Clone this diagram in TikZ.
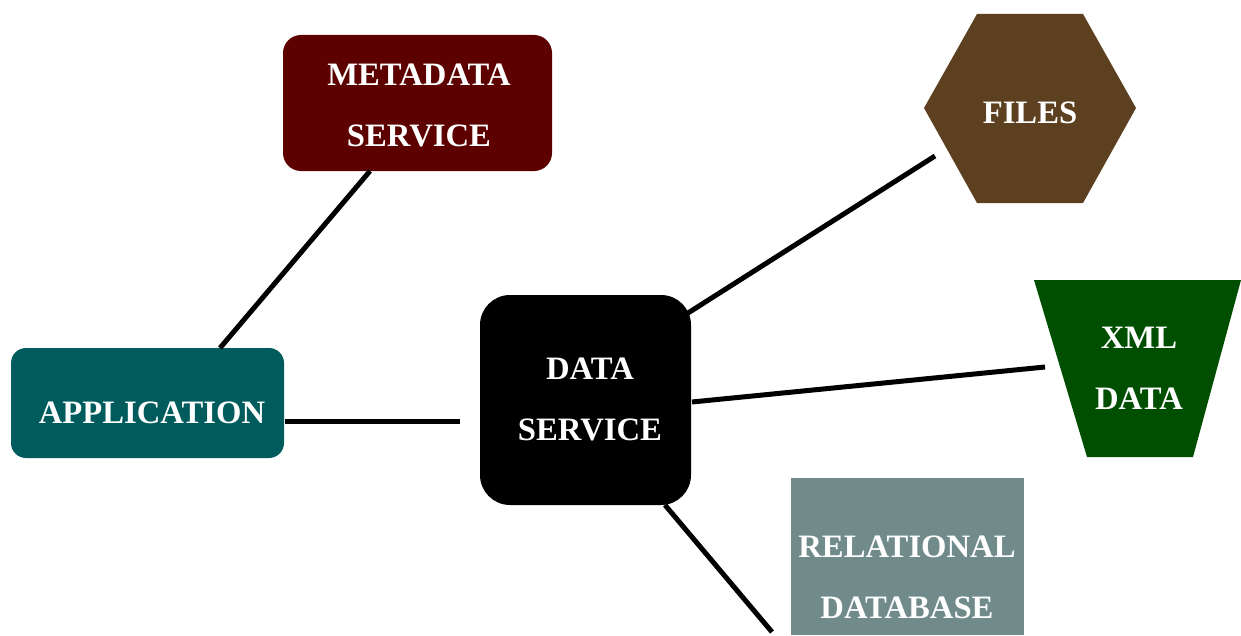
\documentclass[tikz,border=0pt]{standalone}
\usepackage{fontspec}
\setmainfont{Liberation Serif}
\definecolor{metac}{HTML}{5C0000}
\definecolor{appc}{HTML}{005C5C}
\definecolor{filesc}{HTML}{5C4020}
\definecolor{xmlc}{HTML}{004F00}
\definecolor{relc}{HTML}{718A8A}
\begin{document}
\begin{tikzpicture}[x=0.75pt,y=-0.75pt,
  lbl/.style={text=white,align=center,font=\bfseries\fontsize{24.5}{45.75}\selectfont,inner sep=0pt},
  box/.style={draw=none,inner sep=0pt},
  link/.style={line width=3.75pt,black}]
\useasboundingbox (0,0) rectangle (1241,635);
% shapes
\node[box,fill=metac,rounded corners=13.5pt,minimum width=201.75pt,minimum height=102pt] (meta) at (417.5,103) {};
\node[box,fill=appc,rounded corners=11.25pt,minimum width=204.75pt,minimum height=82.5pt] (app) at (147.5,403) {};
\node[box,fill=black,rounded corners=22.5pt,minimum width=158.25pt,minimum height=157.5pt] (data) at (585.5,400) {};
\node[box,fill=relc,minimum width=174.75pt,minimum height=117.75pt] (rel) at (907.5,556.5) {};
\fill[filesc] (977,14) -- (1083,14) -- (1136,108) -- (1083,203) -- (977,203) -- (924,108) -- cycle;
\fill[xmlc] (1034,280) -- (1241,280) -- (1193,457) -- (1087,457) -- cycle;
% texts
\node[lbl] (tmeta) at (419,105) {METADATA\\SERVICE};
\node[lbl] (tapp) at (152,413) {APPLICATION};
\node[lbl] (tdata) at (590,399.5) {DATA\\SERVICE};
\node[lbl] (tfiles) at (1030,113) {FILES};
\node[lbl] (txml) at (1139,368.5) {XML\\DATA};
\node[lbl] (trel) at (907,577) {RELATIONAL\\DATABASE};
% connector ends
\coordinate (m1) at (370,171);
\coordinate (a1) at (220,348);
\coordinate (a2) at (285,421);
\coordinate (d1) at (460,421);
\coordinate (d2) at (688,313);
\coordinate (f1) at (935,156);
\coordinate (d3) at (692,402);
\coordinate (x1) at (1045,367);
\coordinate (d4) at (665,505);
\coordinate (r1) at (772,632);
\draw[link] (m1) -- (a1);
\draw[link] (a2) -- (d1);
\draw[link] (d2) -- (f1);
\draw[link] (d3) -- (x1);
\draw[link] (d4) -- (r1);
\end{tikzpicture}
\end{document}
